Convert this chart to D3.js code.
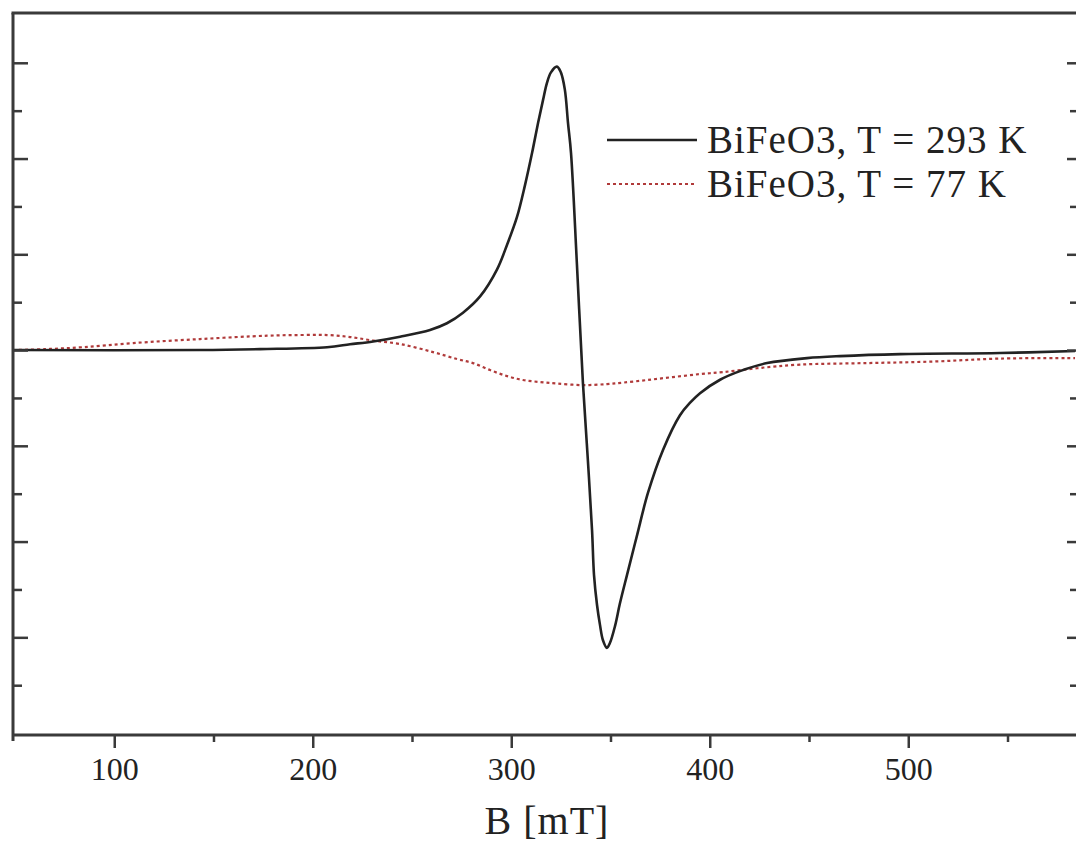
<!DOCTYPE html>
<html>
<head>
<meta charset="utf-8">
<script src="https://cdn.jsdelivr.net/npm/d3@7"></script>
<style>
  html, body { margin: 0; padding: 0; background: #fff; }
  svg { display: block; }
</style>
</head>
<body>
<svg id="chart" width="1076" height="843"></svg>
<script>
// ---- Data ----
const fieldT293 = [49, 143.2, 173.4, 207.2, 218.8, 230.4, 244.0, 259.1, 267.6, 275.7, 284.3, 292.8, 297.9, 302.9, 306.9, 310.5, 313.5, 316.0, 318.0, 320.0, 323.0, 325.0, 327.0, 328.6, 330.1, 333.1, 336.1, 338.6, 340.7, 341.7, 343.2, 344.7, 346.2, 348.2, 349.7, 352.3, 354.7, 358.3, 363.3, 368.9, 376.5, 385.0, 390.1, 395.1, 405.2, 415.2, 428.9, 449.0, 465.6, 495.9, 546.2, 584];
const signalT293 = [0, 0, 0.01, 0.03, 0.06, 0.09, 0.14, 0.21, 0.28, 0.39, 0.56, 0.84, 1.10, 1.39, 1.72, 2.06, 2.37, 2.61, 2.79, 2.90, 2.96, 2.90, 2.72, 2.37, 2.06, 0.89, -0.34, -1.15, -1.88, -2.35, -2.66, -2.87, -3.03, -3.11, -3.06, -2.88, -2.65, -2.35, -1.94, -1.49, -1.04, -0.68, -0.55, -0.45, -0.31, -0.22, -0.136, -0.084, -0.063, -0.042, -0.031, -0.01];

const fieldT77 = [49, 65.6, 84.3, 109.5, 143.2, 177.0, 193.6, 207.2, 218.8, 230.4, 244.0, 260.6, 272.7, 280.7, 289.3, 297.9, 305.9, 314.5, 323.0, 336.1, 348.2, 356.3, 368.4, 381.5, 395.1, 406.7, 423.8, 445.5, 479.2, 512.5, 546.2, 584];
const signalT77 = [0, 0.01, 0.03, 0.073, 0.115, 0.15, 0.157, 0.157, 0.136, 0.099, 0.063, -0.021, -0.094, -0.136, -0.209, -0.272, -0.313, -0.334, -0.35, -0.366, -0.355, -0.34, -0.313, -0.282, -0.251, -0.23, -0.19, -0.152, -0.136, -0.12, -0.089, -0.084];

const xMajorTicks = [100, 200, 300, 400, 500];
const xMinorTicks = [150, 250, 350, 450, 550];
const yMajorTicks = [-3, -2, -1, 0, 1, 2, 3];
const yMinorTicks = [-3.5, -2.5, -1.5, -0.5, 0.5, 1.5, 2.5];
const seriesNames = ["BiFeO3, T = 293 K", "BiFeO3, T = 77 K"];
const xTitle = "B [mT]";

// ---- Layout ----
const svg = d3.select("#chart");
const plotLeft = 13, plotRight = 1075, plotTop = 13, plotBottom = 735;

const x = d3.scaleLinear().domain([49, 584]).range([plotLeft, plotRight]);
const y = d3.scaleLinear().domain([-4.02, 3.52]).range([plotBottom, plotTop]);

const axisColor = "#3a3a3a";
const serif = "'Liberation Serif', 'Times New Roman', serif";

// Series lines
const line = d3.line().x(d => x(d[0])).y(d => y(d[1])).curve(d3.curveCatmullRom.alpha(0.5));

svg.append("path")
  .datum(d3.zip(fieldT77, signalT77))
  .attr("d", line)
  .attr("fill", "none")
  .attr("stroke", "#b03a3a")
  .attr("stroke-width", 2.2)
  .attr("stroke-dasharray", "3,3");

svg.append("path")
  .datum(d3.zip(fieldT293, signalT293))
  .attr("d", line)
  .attr("fill", "none")
  .attr("stroke", "#222")
  .attr("stroke-width", 2.6);

// Bottom axis
const gx = svg.append("g").attr("transform", `translate(0,${plotBottom})`)
  .call(d3.axisBottom(x).tickValues(xMajorTicks).tickSize(13).tickSizeOuter(0).tickFormat(d3.format("d")));
gx.select(".domain").remove();
gx.selectAll(".tick line").attr("stroke", axisColor).attr("stroke-width", 2.5);
gx.selectAll(".tick text")
  .attr("font-family", serif).attr("font-size", 32).attr("fill", "#222")
  .attr("dy", "1.05em").attr("y", 11);

const gxm = svg.append("g").attr("transform", `translate(0,${plotBottom})`)
  .call(d3.axisBottom(x).tickValues(xMinorTicks).tickSize(7).tickFormat(""));
gxm.select(".domain").remove();
gxm.selectAll(".tick line").attr("stroke", axisColor).attr("stroke-width", 2.5);

// Left axis ticks (inward, no labels)
const gy = svg.append("g").attr("transform", `translate(${plotLeft},0)`)
  .call(d3.axisRight(y).tickValues(yMajorTicks).tickSize(15).tickFormat(""));
gy.select(".domain").remove();
gy.selectAll(".tick line").attr("stroke", axisColor).attr("stroke-width", 2.5);
const gym = svg.append("g").attr("transform", `translate(${plotLeft},0)`)
  .call(d3.axisRight(y).tickValues(yMinorTicks).tickSize(9).tickFormat(""));
gym.select(".domain").remove();
gym.selectAll(".tick line").attr("stroke", axisColor).attr("stroke-width", 2.5);

// Right axis ticks (inward)
const gr = svg.append("g").attr("transform", `translate(${plotRight + 1},0)`)
  .call(d3.axisLeft(y).tickValues(yMajorTicks).tickSize(9).tickFormat(""));
gr.select(".domain").remove();
gr.selectAll(".tick line").attr("stroke", axisColor).attr("stroke-width", 2.5);
const grm = svg.append("g").attr("transform", `translate(${plotRight + 1},0)`)
  .call(d3.axisLeft(y).tickValues(yMinorTicks).tickSize(6).tickFormat(""));
grm.select(".domain").remove();
grm.selectAll(".tick line").attr("stroke", axisColor).attr("stroke-width", 2.5);

// Frame lines
svg.append("line").attr("x1", plotLeft).attr("x2", plotLeft).attr("y1", plotTop).attr("y2", plotBottom + 6)
  .attr("stroke", axisColor).attr("stroke-width", 3);
svg.append("line").attr("x1", plotLeft).attr("x2", 1076).attr("y1", plotBottom).attr("y2", plotBottom)
  .attr("stroke", axisColor).attr("stroke-width", 3);
svg.append("line").attr("x1", plotLeft - 1.5).attr("x2", 1076).attr("y1", plotTop).attr("y2", plotTop)
  .attr("stroke", axisColor).attr("stroke-width", 3);

// Axis title
svg.append("text")
  .attr("x", 547).attr("y", 834)
  .attr("text-anchor", "middle")
  .attr("font-family", serif).attr("font-size", 40).attr("fill", "#222")
  .attr("letter-spacing", 1)
  .text(xTitle);

// Legend
const legendRows = [
  { name: seriesNames[0], y: 140, color: "#222", dash: null, w: 2.6 },
  { name: seriesNames[1], y: 184, color: "#b03a3a", dash: "3,3", w: 2.2 }
];
legendRows.forEach(r => {
  svg.append("line").attr("x1", 607).attr("x2", 697).attr("y1", r.y).attr("y2", r.y)
    .attr("stroke", r.color).attr("stroke-width", r.w).attr("stroke-dasharray", r.dash);
  svg.append("text").attr("x", 707).attr("y", r.y + 13)
    .attr("font-family", serif).attr("font-size", 39).attr("fill", "#222")
    .attr("letter-spacing", 1)
    .text(r.name);
});
</script>
</body>
</html>
